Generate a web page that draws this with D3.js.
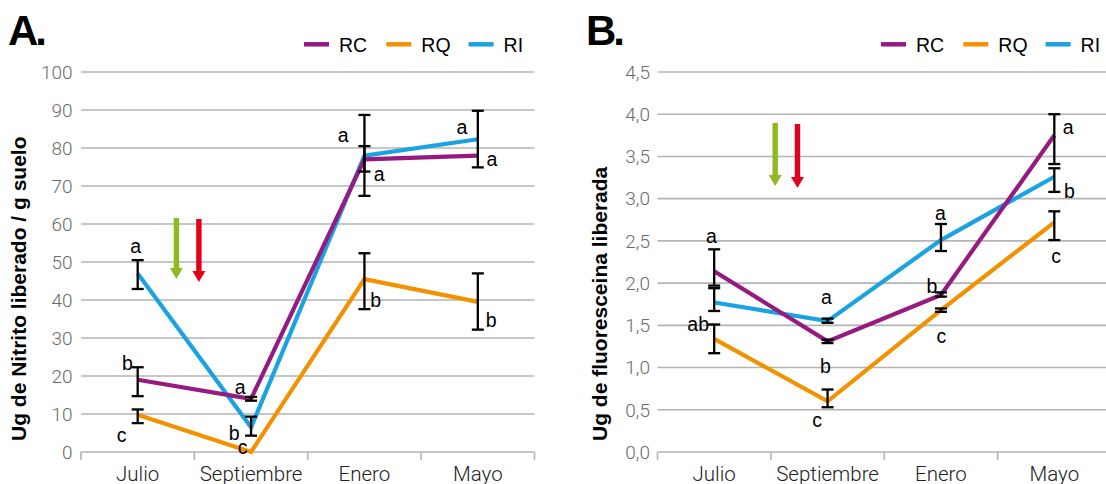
<!DOCTYPE html>
<html><head><meta charset="utf-8">
<script src="https://cdn.jsdelivr.net/npm/d3@7"></script>
<style>body{margin:0;background:#fff} svg{display:block}</style>
</head><body><svg id="c" width="1106" height="484"></svg>
<script>
// ---------- DATA ----------
const categories = ["Julio", "Septiembre", "Enero", "Mayo"];
const seriesNames = ["RC", "RQ", "RI"];

// Panel A: Ug de Nitrito liberado / g suelo
const nitritoRC = [19, 14, 77, 78];
const nitritoRQ = [9.8, 0, 45.5, 39.5];
const nitritoRI = [47, 6.5, 78, 82.3];
const nitritoRCErr = [[14.7, 22.3], [13.5, 14.5], [73.8, 80.5], null];
const nitritoRQErr = [[7.6, 11.2], null, [37.6, 52.3], [32.2, 47]];
const nitritoRIErr = [[42.9, 50.5], [4.3, 9.3], [67.4, 88.7], [74.9, 89.8]];
const nitritoRCLetters = ["b", "a", "a", "a"];
const nitritoRQLetters = ["c", "c", "b", "b"];
const nitritoRILetters = ["a", "b", "a", "a"];
const nitritoTicks = [0, 10, 20, 30, 40, 50, 60, 70, 80, 90, 100];
const nitritoTickLabels = ["0", "10", "20", "30", "40", "50", "60", "70", "80", "90", "100"];

// Panel B: Ug de fluoresceina liberada
const fluorRC = [2.14, 1.31, 1.86, 3.75];
const fluorRQ = [1.34, 0.60, 1.68, 2.72];
const fluorRI = [1.77, 1.55, 2.51, 3.26];
const fluorRCErr = [[1.97, 2.40], [1.29, 1.33], [1.84, 1.89], [3.41, 4.00]];
const fluorRQErr = [[1.17, 1.51], [0.53, 0.74], [1.66, 1.70], [2.51, 2.85]];
const fluorRIErr = [[1.67, 1.94], [1.53, 1.58], [2.38, 2.70], [3.08, 3.36]];
const fluorRCLetters = ["a", "b", "b", "a"];
const fluorRQLetters = ["ab", "c", "c", "c"];
const fluorRILetters = ["", "a", "a", "b"];
const fluorTicks = [0, 0.5, 1, 1.5, 2, 2.5, 3, 3.5, 4, 4.5];
const fluorTickLabels = ["0,0", "0,5", "1,0", "1,5", "2,0", "2,5", "3,0", "3,5", "4,0", "4,5"];

// ---------- STYLE / LAYOUT ----------
const colors = { RC: "#951b81", RQ: "#f39200", RI: "#1aa3e0" };
const drawOrder = ["RI", "RQ", "RC"];
const labelOffsetsA = {
  RC: [[-10.3, -16.8], [-11, -9.8], [14.8, 16.6], [14, 5.4]],
  RQ: [[-16, 22.5], [-8.4, -3], [11.3, 20.9], [13.4, 18.1]],
  RI: [[-2, -25.4], [-17, 5.4], [-21.2, -18.4], [-16, -10.3]]
};
const labelOffsetsB = {
  RC: [[-2.7, -33.6], [-2.2, 24.6], [-8.9, -8.9], [13.9, -6]],
  RQ: [[-16, -14.8], [-10.5, 20.4], [0.5, 27.9], [1.9, 36]],
  RI: [null, [-1.1, -22.1], [-0.6, -25], [15.2, 14.6]]
};

const panels = [
  {
    letter: "A.", letterX: 8, title: "Ug de Nitrito liberado / g suelo", titleX: 26,
    xRange: [81, 534.5], gridRight: 534.5, domain: [0, 100],
    ticks: nitritoTicks, tickLabels: nitritoTickLabels, tickRight: 72.5,
    values: { RC: nitritoRC, RQ: nitritoRQ, RI: nitritoRI },
    errs: { RC: nitritoRCErr, RQ: nitritoRQErr, RI: nitritoRIErr },
    letters: { RC: nitritoRCLetters, RQ: nitritoRQLetters, RI: nitritoRILetters },
    offsets: labelOffsetsA, legendX: 304,
    arrows: [{ x: 176.4, y1: 218, y2: 279, c: "#8fba1f" }, { x: 198.9, y1: 219, y2: 282, c: "#e2001a" }]
  },
  {
    letter: "B.", letterX: 586, title: "Ug de fluoresceina liberada", titleX: 607,
    xRange: [657.5, 1111], gridRight: 1106, domain: [0, 4.5],
    ticks: fluorTicks, tickLabels: fluorTickLabels, tickRight: 650,
    values: { RC: fluorRC, RQ: fluorRQ, RI: fluorRI },
    errs: { RC: fluorRCErr, RQ: fluorRQErr, RI: fluorRIErr },
    letters: { RC: fluorRCLetters, RQ: fluorRQLetters, RI: fluorRILetters },
    offsets: labelOffsetsB, legendX: 881,
    arrows: [{ x: 775.2, y1: 123, y2: 186, c: "#8fba1f" }, { x: 797.5, y1: 124, y2: 188, c: "#e2001a" }]
  }
];

const svg = d3.select("#c");
const FONT = "'Liberation Sans', Arial, Helvetica, sans-serif";
const LIGHT = "Roboto, 'Liberation Sans', sans-serif";

panels.forEach(p => {
  const g = svg.append("g");
  const y = d3.scaleLinear().domain(p.domain).range([452, 72]);
  const xb = d3.scaleBand().domain(categories).range(p.xRange);
  const x = d => xb(d) + xb.bandwidth() / 2;
  const left = p.xRange[0];

  // gridlines
  g.append("g").selectAll("line").data(p.ticks.slice(1)).join("line")
    .attr("x1", left).attr("x2", p.gridRight)
    .attr("y1", d => y(d)).attr("y2", d => y(d))
    .attr("stroke", "#b4b4b4").attr("stroke-width", 1.6);

  // y tick labels
  g.append("g").selectAll("text").data(p.ticks).join("text")
    .attr("x", p.tickRight).attr("y", d => y(d) + 6.8)
    .attr("text-anchor", "end")
    .attr("font-family", LIGHT).attr("font-weight", 300).attr("font-size", 19)
    .attr("fill", "#6a6a6a")
    .text((d, i) => p.tickLabels[i]);

  // x axis
  const xAxis = d3.axisBottom(xb).tickSize(0).tickPadding(0);
  const ax = g.append("g").attr("transform", `translate(0,${y(0)})`).call(xAxis);
  ax.select(".domain").remove();
  ax.selectAll("text").attr("y", 28.5).attr("dy", 0)
    .attr("font-family", LIGHT).attr("font-weight", 300).attr("font-size", 20.5).attr("fill", "#222");
  g.append("line").attr("x1", left).attr("x2", Math.min(p.xRange[1], 1106))
    .attr("y1", y(0)).attr("y2", y(0)).attr("stroke", "#b4b4b4").attr("stroke-width", 1.6);
  const bounds = categories.map(c => xb(c)).concat([p.xRange[1]]);
  g.append("g").selectAll("line").data(bounds).join("line")
    .attr("x1", d => d).attr("x2", d => d).attr("y1", y(0)).attr("y2", y(0) + 8)
    .attr("stroke", "#b4b4b4").attr("stroke-width", 1.6);

  // series lines
  const line = d3.line().x((d, i) => x(categories[i])).y(d => y(d));
  drawOrder.forEach(s => {
    g.append("path").datum(p.values[s]).attr("d", line)
      .attr("fill", "none").attr("stroke", colors[s]).attr("stroke-width", 4.2)
      .attr("stroke-linejoin", "miter");
  });

  // error bars
  seriesNames.forEach(s => {
    p.errs[s].forEach((e, i) => {
      if (!e) return;
      const cx = x(categories[i]);
      const eg = g.append("g").attr("stroke", "#000").attr("stroke-width", 2.3);
      eg.append("line").attr("x1", cx).attr("x2", cx).attr("y1", y(e[0])).attr("y2", y(e[1]));
      eg.append("line").attr("x1", cx - 6).attr("x2", cx + 6).attr("y1", y(e[0])).attr("y2", y(e[0]));
      eg.append("line").attr("x1", cx - 6).attr("x2", cx + 6).attr("y1", y(e[1])).attr("y2", y(e[1]));
    });
  });

  // significance letters
  seriesNames.forEach(s => {
    p.letters[s].forEach((t, i) => {
      const o = p.offsets[s][i];
      if (!t || !o) return;
      const base = /b/.test(t) ? 7 : 5;
      g.append("text")
        .attr("x", x(categories[i]) + o[0])
        .attr("y", y(p.values[s][i]) + o[1] + base)
        .attr("text-anchor", "middle")
        .attr("font-family", FONT).attr("font-size", 19.5).attr("fill", "#000")
        .text(t);
    });
  });

  // arrows
  p.arrows.forEach(a => {
    g.append("rect").attr("x", a.x - 2.7).attr("y", a.y1).attr("width", 5.4).attr("height", a.y2 - a.y1 - 9)
      .attr("fill", a.c);
    g.append("path").attr("d", `M${a.x - 6.5},${a.y2 - 11}L${a.x + 6.5},${a.y2 - 11}L${a.x},${a.y2}Z`).attr("fill", a.c);
  });

  // legend
  seriesNames.forEach((s, i) => {
    const lx = p.legendX + i * 82.3;
    g.append("line").attr("x1", lx).attr("x2", lx + 25).attr("y1", 44.3).attr("y2", 44.3)
      .attr("stroke", colors[s]).attr("stroke-width", 4.5);
    g.append("text").attr("x", lx + 35).attr("y", 51.5)
      .attr("font-family", FONT).attr("font-size", 19.5).attr("fill", "#000").text(s);
  });

  // panel letter
  g.append("text").attr("x", p.letterX).attr("y", 45)
    .attr("font-family", FONT).attr("font-weight", 900).attr("font-size", 42)
    .attr("letter-spacing", -3).attr("fill", "#000").text(p.letter);

  // y title
  g.append("text").attr("transform", `translate(${p.titleX},441) rotate(-90)`)
    .attr("text-anchor", "start")
    .attr("font-family", FONT).attr("font-weight", 700).attr("font-size", 21)
    .attr("fill", "#000").text(p.title);
});
</script>
</body></html>
